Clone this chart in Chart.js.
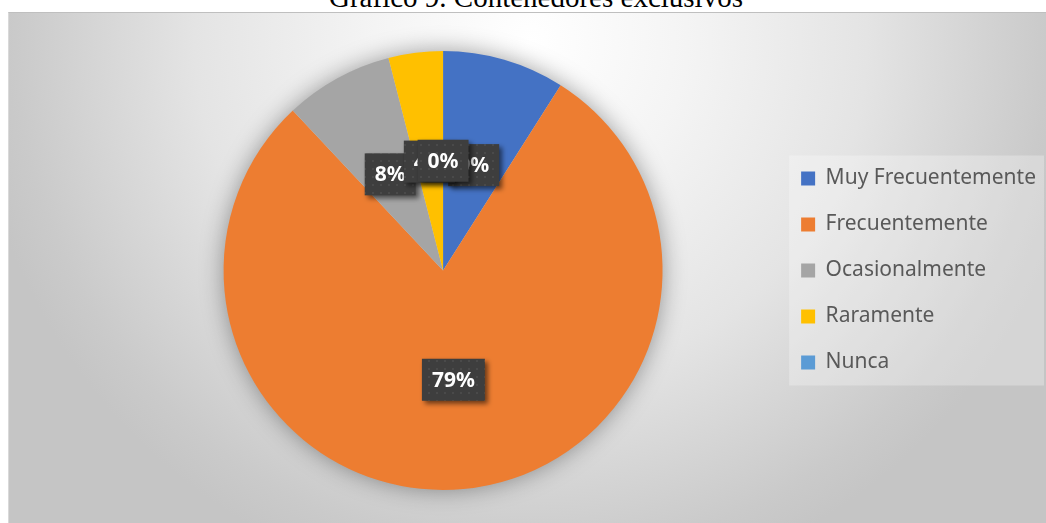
<!DOCTYPE html>
<html lang="es">
<head>
<meta charset="utf-8">
<title>Contenedores exclusivos</title>
<script src="https://cdn.jsdelivr.net/npm/chart.js@4.4.1/dist/chart.umd.min.js"></script>
<style>
  html, body { margin: 0; padding: 0; background: #ffffff; }
  body { width: 1046px; height: 523px; position: relative; overflow: hidden; }
  .titulo {
    position: absolute; left: 0; width: 1072px; top: -17px;
    text-align: center; font-family: "Liberation Serif", "Times New Roman", serif;
    font-size: 29px; line-height: 29px; color: #000;
  }
  .marco {
    position: absolute; left: 8px; top: 12px; width: 1038px; height: 511px;
    border-top: 1px solid #bfbfbf; border-left: 1px solid #d9d9d9;
    box-sizing: border-box;
    background: radial-gradient(circle 560px at 522px 28px, #ffffff 0%, #f4f4f4 28%, #e4e4e4 60%, #cacaca 92%, #c5c5c5 100%);
  }
</style>
</head>
<body>
<div class="titulo">Gráfico 9. Contenedores exclusivos</div>
<div class="marco"><canvas id="graficoContenedores"></canvas></div>
<script>
// Respuestas sobre el uso de contenedores exclusivos (porcentaje)
const categorias = ["Muy Frecuentemente", "Frecuentemente", "Ocasionalmente", "Raramente", "Nunca"];
const porcentajes = [9, 79, 8, 4, 0];
const colores = ["#4472C4", "#ED7D31", "#A5A5A5", "#FFC000", "#5B9BD5"];

// Trama punteada de las etiquetas
function tramaEtiqueta() {
  const c = document.createElement("canvas");
  c.width = 8;
  c.height = 8;
  const g = c.getContext("2d");
  g.fillStyle = "#3e3e3e";
  g.fillRect(0, 0, 8, 8);
  g.fillStyle = "#4a4a4a";
  g.fillRect(3, 3, 2, 2);
  return g.createPattern(c, "repeat");
}

// Sombra difusa bajo el círculo
const sombraTorta = {
  id: "sombraTorta",
  beforeDatasetsDraw(chart) {
    const arc = chart.getDatasetMeta(0).data[0];
    if (!arc) return;
    const ctx = chart.ctx;
    ctx.save();
    ctx.shadowColor = "rgba(0,0,0,0.4)";
    ctx.shadowBlur = 24;
    ctx.fillStyle = "#d0d0d0";
    ctx.beginPath();
    ctx.arc(arc.x, arc.y, arc.outerRadius - 1, 0, Math.PI * 2);
    ctx.fill();
    ctx.restore();
  }
};

// Fondo claro detrás de la leyenda
const fondoLeyenda = {
  id: "fondoLeyenda",
  beforeDraw(chart) {
    const cajas = chart.legend && chart.legend.legendHitBoxes;
    if (!cajas || !cajas.length) return;
    const ultima = cajas[cajas.length - 1];
    const izq = Math.min(...cajas.map((b) => b.left)) - 12;
    const arriba = cajas[0].top + cajas[0].height / 2 - 23;
    const abajo = ultima.top + ultima.height / 2 + 23;
    const ctx = chart.ctx;
    ctx.save();
    ctx.fillStyle = "rgba(255,255,255,0.28)";
    ctx.fillRect(izq, arriba, chart.width - 2 - izq, abajo - arriba);
    ctx.restore();
  }
};

// Etiquetas de porcentaje en cajas oscuras
const etiquetas = {
  id: "etiquetas",
  afterDatasetsDraw(chart) {
    const ctx = chart.ctx;
    const datos = chart.data.datasets[0].data;
    const total = datos.reduce((a, b) => a + b, 0);
    const trama = tramaEtiqueta();
    ctx.save();
    ctx.font = "bold 21px 'Noto Sans', sans-serif";
    ctx.textAlign = "center";
    ctx.textBaseline = "middle";
    chart.getDatasetMeta(0).data.forEach((arc, i) => {
      const texto = Math.round((datos[i] / total) * 100) + "%";
      const p = arc.getCenterPoint();
      const w = ctx.measureText(texto).width + 20;
      const h = 42;
      ctx.save();
      ctx.shadowColor = "rgba(0,0,0,0.55)";
      ctx.shadowBlur = 5;
      ctx.shadowOffsetX = 3;
      ctx.shadowOffsetY = 3;
      ctx.fillStyle = trama;
      ctx.fillRect(p.x - w / 2, p.y - h / 2, w, h);
      ctx.restore();
      ctx.fillStyle = "#ffffff";
      ctx.fillText(texto, p.x, p.y + 1);
    });
    ctx.restore();
  }
};

new Chart(document.getElementById("graficoContenedores"), {
  type: "pie",
  data: {
    labels: categorias,
    datasets: [
      {
        data: porcentajes,
        backgroundColor: colores,
        borderWidth: 0,
      },
    ],
  },
  options: {
    responsive: true,
    maintainAspectRatio: false,
    animation: false,
    layout: {
      padding: { top: 38, bottom: 33, left: 101, right: 0 },
    },
    plugins: {
      legend: {
        position: "right",
        labels: {
          boxWidth: 14,
          boxHeight: 14,
          padding: 25,
          color: "#595959",
          font: { family: "'Noto Sans', sans-serif", size: 21 },
        },
      },
      tooltip: { enabled: false },
    },
  },
  plugins: [fondoLeyenda, sombraTorta, etiquetas],
});
</script>
</body>
</html>
